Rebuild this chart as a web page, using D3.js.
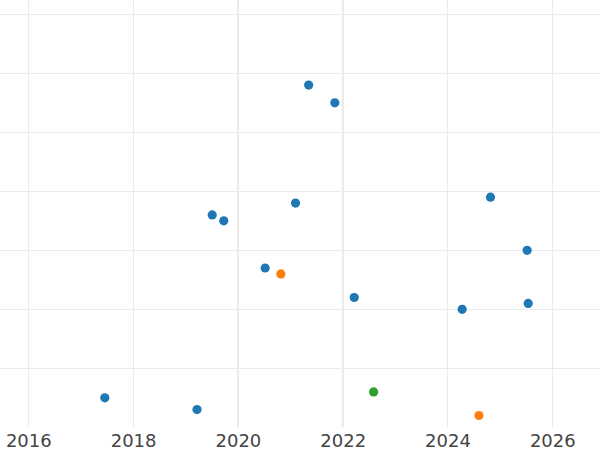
<!DOCTYPE html>
<html>
<head>
<meta charset="utf-8">
<script src="https://cdn.jsdelivr.net/npm/d3@7"></script>
<style>
  html, body { margin: 0; padding: 0; background: #fff; }
  svg { display: block; }
</style>
</head>
<body>
<svg id="chart" width="600" height="450"></svg>
<script>
// Data
const years = [2021.35, 2021.85, 2024.82, 2019.51, 2019.73, 2021.10, 2025.52, 2020.52, 2020.82, 2022.22, 2024.28, 2025.54, 2022.59, 2017.46, 2019.22, 2024.60];
const values = [5.8, 5.5, 3.9, 3.6, 3.5, 3.8, 3.0, 2.7, 2.6, 2.2, 2.0, 2.1, 0.6, 0.5, 0.3, 0.2];
const groups = ["A", "A", "A", "A", "A", "A", "A", "A", "B", "A", "A", "A", "C", "A", "A", "B"];
const groupNames = ["A", "B", "C"];
const groupColors = ["#1f77b4", "#ff7f0e", "#2ca02c"];
const xTicks = [2016, 2018, 2020, 2022, 2024, 2026];
const yTicks = [1, 2, 3, 4, 5, 6, 7];
const markedYears = [2020, 2022];

const W = 600, H = 450;
const plotBottom = 427.3;
const svg = d3.select("#chart");

const x = d3.scaleLinear()
  .domain([2016 - 28.3 / 52.4, 2016 + (600 - 28.3) / 52.4])
  .range([0, W]);
const y = d3.scaleLinear()
  .domain([0, plotBottom / 59])
  .range([plotBottom, 0]);
const color = d3.scaleOrdinal().domain(groupNames).range(groupColors);

// horizontal gridlines
svg.append("g")
  .selectAll("line")
  .data(yTicks)
  .join("line")
  .attr("x1", 0).attr("x2", W)
  .attr("y1", d => Math.round(y(d)) + 0.5)
  .attr("y2", d => Math.round(y(d)) + 0.5)
  .attr("stroke", "#ebebeb")
  .attr("stroke-width", 1);

// vertical gridlines
svg.append("g")
  .selectAll("line")
  .data(xTicks)
  .join("line")
  .attr("x1", d => Math.round(x(d)) + 0.5)
  .attr("x2", d => Math.round(x(d)) + 0.5)
  .attr("y1", 0).attr("y2", plotBottom)
  .attr("stroke", "#ebebeb")
  .attr("stroke-width", 1);

// marked years (slightly heavier lines)
svg.append("g")
  .selectAll("line")
  .data(markedYears)
  .join("line")
  .attr("x1", d => x(d))
  .attr("x2", d => x(d))
  .attr("y1", 0).attr("y2", plotBottom)
  .attr("stroke", "#ebebeb")
  .attr("stroke-width", 2);

// x axis labels
const xAxis = d3.axisBottom(x).tickValues(xTicks).tickFormat(d3.format("d")).tickSize(0).tickPadding(7);
const gx = svg.append("g")
  .attr("transform", `translate(0,${plotBottom})`)
  .call(xAxis);
gx.select(".domain").remove();
gx.selectAll("text")
  .attr("font-family", "DejaVu Sans, sans-serif")
  .attr("font-size", 18)
  .attr("fill", "#444");

// points
const data = years.map((yr, i) => ({ year: yr, value: values[i], group: groups[i] }));
svg.append("g")
  .selectAll("circle")
  .data(data)
  .join("circle")
  .attr("cx", d => x(d.year))
  .attr("cy", d => y(d.value))
  .attr("r", 4.6)
  .attr("fill", d => color(d.group));
</script>
</body>
</html>
